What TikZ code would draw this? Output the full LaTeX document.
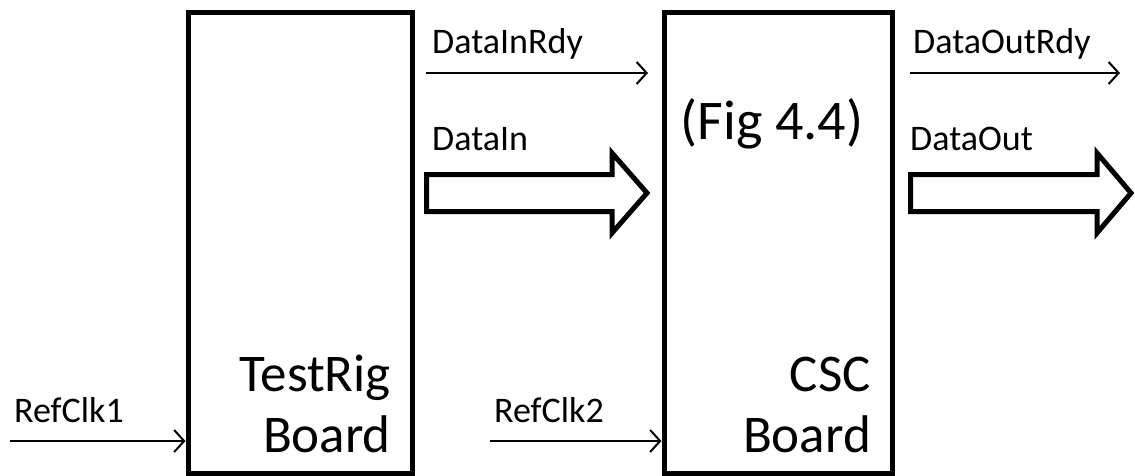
\documentclass[tikz,border=0pt]{standalone}
\usepackage{fontspec}
\setmainfont{Carlito}
\usetikzlibrary{arrows.meta}
\begin{document}
\begin{tikzpicture}[x=1pt,y=-1pt,
  board/.style={draw,line width=5pt,minimum height=461pt,inner sep=0pt,anchor=north west},
  sig/.style={line width=2pt,-{Straight Barb[length=10pt,width=22pt,line width=2pt]}},
  bus/.style={draw,line width=5pt,line join=miter,fill=white},
  lbl/.style={inner sep=0pt,font=\fontsize{36}{43}\selectfont},
  big/.style={inner sep=0pt,font=\fontsize{53}{64}\selectfont}]
\useasboundingbox (0,0) rectangle (1135,475);
% boards
\node[board,minimum width=224pt] (testrig) at (185.5,9.5) {};
\node[board,minimum width=228pt] (csc) at (661.5,9.5) {};
% big labels
\node[big,anchor=base east] (trl1) at (391,391) {TestRig};
\node[big,anchor=base east] (trl2) at (391,452) {Board};
\node[big,anchor=base east] (cscl1) at (871,391) {CSC};
\node[big,anchor=base east] (cscl2) at (871,452) {Board};
\node[big,anchor=base,font=\fontsize{56}{66}\selectfont] (fig) at (772,139) {(Fig 4.4)};
% signal labels
\node[lbl,anchor=base west] (ldir) at (432,53) {DataInRdy};
\node[lbl,anchor=base west] (ldi) at (432,150) {DataIn};
\node[lbl,anchor=base west] (ldor) at (913,53) {DataOutRdy};
\node[lbl,anchor=base west] (ldo) at (910,150) {DataOut};
\node[lbl,anchor=base west] (lrc1) at (14,422) {RefClk1};
\node[lbl,anchor=base west] (lrc2) at (494,422) {RefClk2};
% thin signals
\coordinate (dirS) at (426,73);
\coordinate (dirE) at (648,73);
\coordinate (dorS) at (910,73);
\coordinate (dorE) at (1120,73);
\coordinate (rc1S) at (10,441);
\coordinate (rc2S) at (490,441);
\draw[sig] (dirS) -- (dirE);
\draw[sig] (dorS) -- (dorE);
\draw[sig] (rc1S) -- (rc1S -| testrig.west);
\draw[sig] (rc2S) -- (rc2S -| csc.west);
% buses
\draw[bus] (426.5,174.5) -- (612,174.5) -- (612,153) -- (647,193) -- (612,233) -- (612,211.5) -- (426.5,211.5) -- cycle;
\draw[bus] (910.5,174.5) -- (1097,174.5) -- (1097,153) -- (1131,193) -- (1097,233) -- (1097,211.5) -- (910.5,211.5) -- cycle;
\end{tikzpicture}
\end{document}
